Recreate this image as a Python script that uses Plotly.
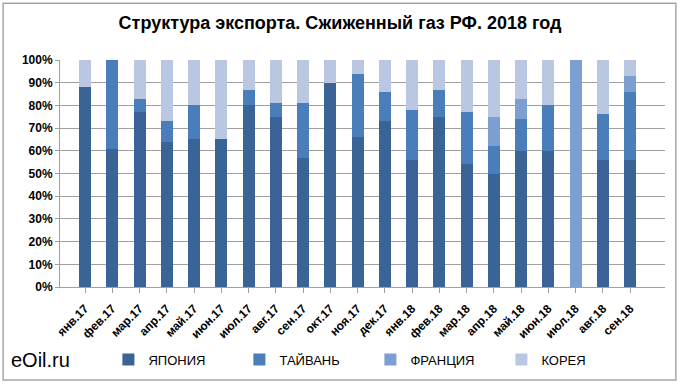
import plotly.graph_objects as go

months = ["янв.17", "фев.17", "мар.17", "апр.17", "май.17", "июн.17", "июл.17", "авг.17",
          "сен.17", "окт.17", "ноя.17", "дек.17", "янв.18", "фев.18", "мар.18", "апр.18",
          "май.18", "июн.18", "июл.18", "авг.18", "сен.18"]
japan  = [88, 61, 77, 64, 65, 65, 80, 75, 57, 90, 66, 73, 56, 75, 54, 50, 60, 60, 0, 56, 56]
taiwan = [0, 39, 6, 9, 15, 0, 7, 6, 24, 0, 28, 13, 22, 12, 23, 12, 14, 20, 0, 20, 30]
france = [0, 0, 0, 0, 0, 0, 0, 0, 0, 0, 0, 0, 0, 0, 0, 13, 9, 0, 100, 0, 7]
korea  = [12, 0, 17, 27, 20, 35, 13, 19, 19, 10, 6, 14, 22, 13, 23, 25, 17, 20, 0, 24, 7]

series = [("ЯПОНИЯ", japan, "#3A6496"),
          ("ТАЙВАНЬ", taiwan, "#4A7EBB"),
          ("ФРАНЦИЯ", france, "#7D9ED1"),
          ("КОРЕЯ", korea, "#B9C7E2")]

font_narrow = "Liberation Sans Narrow, Arial Narrow, Liberation Sans, Arial"

fig = go.Figure()
for name, vals, col in series:
    fig.add_trace(go.Bar(x=months, y=vals, name=name, marker_color=col,
                         marker_line_width=0))

fig.update_layout(
    width=680, height=384,
    barmode="stack", barnorm="percent", bargap=0.56,
    paper_bgcolor="white", plot_bgcolor="white",
    margin=dict(l=60, r=15, t=60, b=97, autoexpand=False),
    title=dict(text="<b>Структура экспорта. Сжиженный газ РФ. 2018 год</b>",
               x=0.5, xanchor="center", y=0.94, yanchor="middle",
               font=dict(family=font_narrow, size=18, color="black")),
    showlegend=True,
    legend=dict(orientation="h", x=0.08, xanchor="left", y=-0.32, yanchor="middle",
                entrywidth=86, entrywidthmode="pixels",
                font=dict(family=font_narrow, size=13, color="black"),
                itemsizing="constant", traceorder="normal"),
    font=dict(family=font_narrow, color="black"),
)
fig.update_yaxes(range=[0, 100], tickvals=list(range(0, 101, 10)),
                 ticktext=[f"<b>{v}%</b>" for v in range(0, 101, 10)],
                 tickfont=dict(family=font_narrow, size=12, color="black"),
                 showgrid=True, gridcolor="#A0A0A0", gridwidth=1,
                 showline=True, linecolor="#A0A0A0", ticks="outside",
                 ticklen=4, tickcolor="#A0A0A0", zeroline=False, automargin=False)
fig.update_xaxes(tickangle=-45, range=[-0.92, 21.28],
                 tickfont=dict(family=font_narrow, size=12, color="black"),
                 tickvals=months, ticktext=[f"<b>{m}</b>" for m in months],
                 showline=True, linecolor="#A0A0A0", ticks="outside",
                 ticklen=5, tickcolor="#A0A0A0", ticklabelstandoff=4, automargin=False)

fig.add_annotation(text="eOil.ru", xref="paper", yref="paper", x=-0.085, y=-0.32,
                   xanchor="left", yanchor="middle", showarrow=False,
                   font=dict(family="Liberation Sans, Arial", size=20, color="black"))
fig.add_shape(type="rect", xref="paper", yref="paper",
              x0=-0.094, x1=1.018, y0=-0.41, y1=1.25,
              line=dict(color="#A6A6A6", width=1.5))

fig.write_html("out.html", config={"displayModeBar": False},
               post_script="document.body.style.margin='0px';document.body.style.overflow='hidden';")
